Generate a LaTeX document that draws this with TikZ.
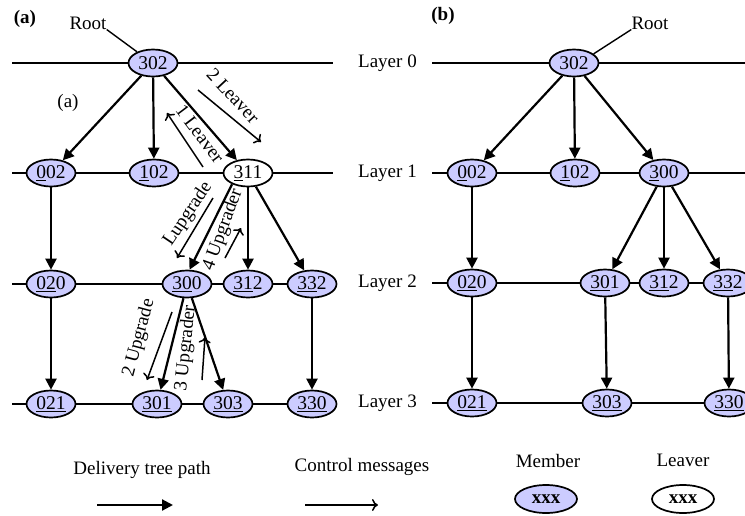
\documentclass[tikz,border=0pt]{standalone}
\usepackage{fontspec}
\setmainfont{Liberation Serif}
\usetikzlibrary{arrows.meta,shapes.geometric}

\definecolor{memberfill}{RGB}{204,204,255}

\tikzset{
  member/.style={ellipse, draw, line width=1.7pt, fill=memberfill,
    minimum width=49pt, minimum height=27pt, inner sep=0pt,
    font=\fontsize{19.5}{19.5}\selectfont},
  leaver/.style={member, fill=white},
  layerline/.style={line width=1.8pt},
  tree/.style={line width=2.2pt, -{Triangle[length=11pt,width=11pt]}},
  ctrl/.style={line width=1.5pt, -{To[length=6pt,width=12pt]}},
  lbl/.style={font=\fontsize{19}{19}\selectfont, inner sep=0pt},
  keybox/.style={minimum width=62pt, minimum height=28pt,
    font=\fontsize{19}{19}\selectfont\bfseries},
}

\begin{document}
\begin{tikzpicture}[x=1pt,y=-1pt]
\useasboundingbox (0,0) rectangle (745,515);
\clip (0,0) rectangle (745,515);

% ---------------- part (a) ----------------
\node[lbl, font=\fontsize{19}{19}\selectfont\bfseries] (tagA) at (25,19) {(a)};
\node[lbl] (tagA2) at (68,103) {(a)};
\node[lbl] (rootA) at (88,23) {Root};

% layer lines
\foreach \y/\n in {63/0,173/1,284/2,404/3}{
  \coordinate (aL\n) at (12,\y);
  \coordinate (aR\n) at (333,\y);
  \draw[layerline] (aL\n) -- (aR\n);
}

\node[member] (a302) at (153,63) {302};
\node[member] (a002) at (51,173) {\underline{0}02};
\node[member] (a102) at (154,173) {\underline{1}02};
\node[leaver] (a311) at (248,173) {\underline{3}11};
\node[member] (a020) at (51,284) {\underline{02}0};
\node[member] (a300) at (187,284) {\underline{30}0};
\node[member] (a312) at (248,284) {\underline{31}2};
\node[member] (a332) at (312,284) {\underline{33}2};
\node[member] (a021) at (51,404) {\underline{021}};
\node[member] (a301) at (157,404) {\underline{301}};
\node[member] (a303) at (228,404) {\underline{303}};
\node[member] (a330) at (312,404) {\underline{330}};

\draw[line width=1.4pt] (rootA.south east) -- (a302.145);

% delivery tree
\draw[tree] (a302) -- (a002);
\draw[tree] (a302) -- (a102);
\draw[tree] (a302) -- (a311);
\draw[tree] (a311.215) -- (a300.80);
\draw[tree] (a311) -- (a312);
\draw[tree] (a311) -- (a332);
\draw[tree] (a002) -- (a020);
\draw[tree] (a020) -- (a021);
\draw[tree] (a300) -- (a301);
\draw[tree] (a300) -- (a303);
\draw[tree] (a332) -- (a330);

% control messages
\coordinate (c2LvS) at (198,90);  \coordinate (c2LvE) at (261,142);
\coordinate (c1LvS) at (203,167); \coordinate (c1LvE) at (167,113);
\coordinate (cLuS)  at (213,198); \coordinate (cLuE)  at (177,258);
\coordinate (c4UpS) at (225,258); \coordinate (c4UpE) at (241,228);
\coordinate (c2UpS) at (172,312); \coordinate (c2UpE) at (147,380);
\coordinate (c3UpS) at (202,380); \coordinate (c3UpE) at (205,337);
\draw[ctrl] (c2LvS) -- (c2LvE);
\draw[ctrl] (c1LvS) -- (c1LvE);
\draw[ctrl] (cLuS) -- (cLuE);
\draw[ctrl] (c4UpS) -- (c4UpE);
\draw[ctrl] (c2UpS) -- (c2UpE);
\draw[ctrl] (c3UpS) -- (c3UpE);

\node[lbl, rotate=-47] (t2Lv) at (233,96) {2 Leaver};
\node[lbl, rotate=-53] (t1Lv) at (200,134) {1 Leaver};
\node[lbl, rotate=56]  (tLu)  at (188,214) {Lupgrade};
\node[lbl, rotate=70]  (t4Up) at (223,230) {4 Upgrader};
\node[lbl, rotate=75]  (t2Up) at (139,338) {2 Upgrade};
\node[lbl, rotate=84]  (t3Up) at (186,348) {3 Upgrader};

% ---------------- part (b) ----------------
\node[lbl, font=\fontsize{19}{19}\selectfont\bfseries] (tagB) at (443,16) {(b)};
\node[lbl] (rootB) at (650,23) {Root};

\foreach \y/\n in {63/0,173/1,283/2,403/3}{
  \node[lbl, anchor=west] (layer\n) at (358,\y) {Layer \n};
  \coordinate (bL\n) at (432,\y);
  \coordinate (bR\n) at (745,\y);
  \draw[layerline] (bL\n) -- (bR\n);
}

\node[member] (b302) at (574,63) {302};
\node[member] (b002) at (472,173) {\underline{0}02};
\node[member] (b102) at (575,173) {\underline{1}02};
\node[member] (b300) at (664,173) {\underline{3}00};
\node[member] (b020) at (472,283) {\underline{02}0};
\node[member] (b301) at (605,283) {\underline{30}1};
\node[member] (b312) at (664,283) {\underline{31}2};
\node[member] (b332) at (728,283) {\underline{33}2};
\node[member] (b021) at (472,403) {\underline{021}};
\node[member] (b303) at (607,403) {\underline{303}};
\node[member] (b330) at (729,403) {\underline{330}};

\draw[line width=1.4pt] (rootB.south west) -- (b302.25);

\draw[tree] (b302) -- (b002);
\draw[tree] (b302) -- (b102);
\draw[tree] (b302) -- (b300);
\draw[tree] (b002) -- (b020);
\draw[tree] (b020) -- (b021);
\draw[tree] (b300) -- (b301);
\draw[tree] (b300) -- (b312);
\draw[tree] (b300) -- (b332);
\draw[tree] (b301) -- (b303);
\draw[tree] (b332) -- (b330);

% ---------------- key ----------------
\node[lbl] (keyTree) at (142,470) {Delivery tree path};
\coordinate (keyTreeS) at (97,505);
\coordinate (keyTreeE) at (173,505);
\draw[tree] (keyTreeS) -- (keyTreeE);

\node[lbl] (keyCtrl) at (362,467) {Control messages};
\coordinate (keyCtrlS) at (305,505);
\coordinate (keyCtrlE) at (378,505);
\draw[ctrl] (keyCtrlS) -- (keyCtrlE);

\node[lbl] (keyMem) at (548,461) {Member};
\node[member, keybox] (keyMemBox) at (546,499) {xxx};
\node[lbl] (keyLv) at (683,460) {Leaver};
\node[leaver, keybox] (keyLvBox) at (683,499) {xxx};
\end{tikzpicture}
\end{document}
